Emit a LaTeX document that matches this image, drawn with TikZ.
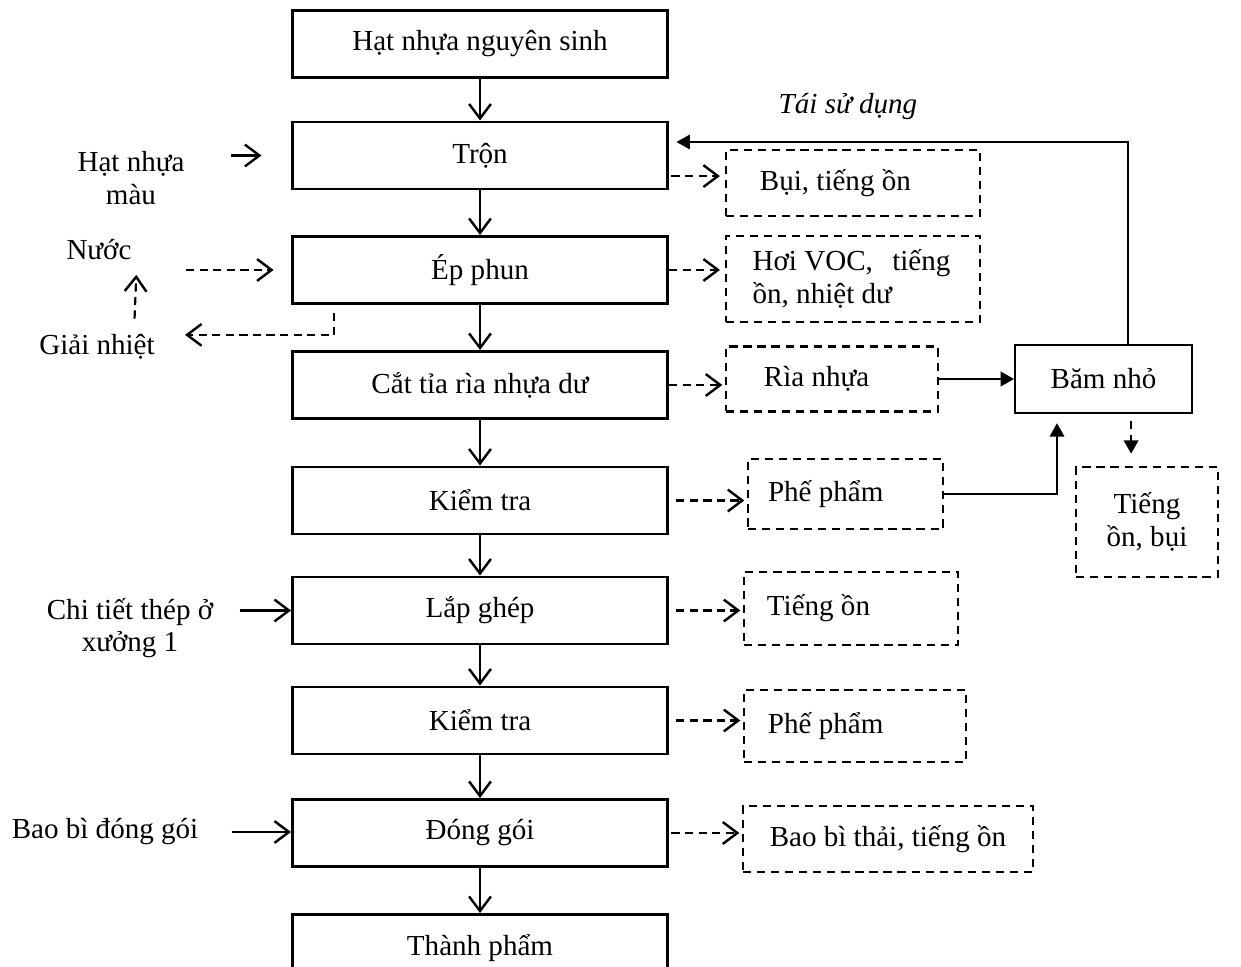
\documentclass[tikz,border=0pt]{standalone}
\usepackage{fontspec}
\setmainfont{Liberation Serif}
\usetikzlibrary{arrows.meta}

\begin{document}
\begin{tikzpicture}[x=0.413pt, y=-0.413pt,
      procbox/.style={draw, line width=1.2pt, minimum width=154.9pt, minimum height=27.7pt},
      wastebox/.style={draw, line width=1pt, dash pattern=on 3.4pt off 2.4pt, align=flush left, inner ysep=2pt},
      flow/.style={line width=0.9pt, -{Straight Barb[length=6pt,width=9pt,line width=1pt]}},
      dashflow/.style={flow, dash pattern=on 3.4pt off 2.2pt},
      feed/.style={line width=0.9pt, -{Triangle[length=5.5pt,width=6pt]}}]
      \tikzstyle{every node}=[font=\fontsize{12}{13.5}\selectfont]
      \clip (0,0) rectangle (1241,967);
      % main line
      \node[procbox] (hat) at (480,44) {Hạt nhựa nguyên sinh};
      \node[procbox] (tron) at (480,155.5) {Trộn};
      \node[procbox] (ep) at (480,270) {Ép phun};
      \node[procbox] (cat) at (480,385) {Cắt tỉa rìa nhựa dư};
      \node[procbox] (kt1) at (480,500.5) {Kiểm tra};
      \node[procbox] (lap) at (480,610.5) {Lắp ghép};
      \node[procbox] (kt2) at (480,720.5) {Kiểm tra};
      \node[procbox] (dong) at (480,833) {Đóng gói};
      \node[procbox, anchor=north] (thanh) at (480,913) {Thành phẩm};
      % waste
      \node[wastebox, text width=76.9pt, inner xsep=14pt, minimum height=27.3pt] (bui) at (853,183) {Bụi, tiếng ồn};
      \node[wastebox, text width=82.9pt, inner xsep=11pt, minimum height=35.5pt] (voc) at (853,279) {Hơi VOC,\hspace{8pt}tiếng\\ồn, nhiệt dư};
      \node[wastebox, text width=56.2pt, inner xsep=15.7pt, minimum height=26.8pt] (ria) at (832,379) {Rìa nhựa};
      \node[wastebox, text width=64pt, inner xsep=8.3pt, minimum height=28.9pt] (phe1) at (845.5,494) {Phế phẩm};
      \node[wastebox, text width=69.4pt, inner xsep=9.5pt, minimum height=30.1pt] (on) at (851,608.5) {Tiếng ồn};
      \node[wastebox, text width=71.9pt, inner xsep=9.9pt, minimum height=29.7pt] (phe2) at (855,726) {Phế phẩm};
      \node[wastebox, align=center, minimum width=119.8pt, minimum height=27.3pt] (baobithai) at (888,839) {Bao bì thải, tiếng ồn};
      \node[wastebox, align=center, minimum width=58.6pt, minimum height=45.4pt] (onbui) at (1147,522) {Tiếng\\ồn, bụi};
      \node[draw, line width=0.8pt, minimum width=73.1pt, minimum height=27.7pt] (bam) at (1103.5,379) {Băm nhỏ};
      % inputs
      \node[align=center] (mau) at (131,178) {Hạt nhựa\\màu};
      \node (nuoc) at (99,250) {Nước};
      \node (giai) at (97,347) {Giải nhiệt};
      \node[align=center] (thep) at (130,628) {Chi tiết thép ở\\xưởng 1};
      \node (baobi) at (105,832) {Bao bì đóng gói};
      \node (taisd) at (848,107) {\textit{Tái sử dụng}};
      \coordinate (bend) at (1128,142);

      \draw[flow] (hat) -- (tron);
      \draw[flow] (tron) -- (ep);
      \draw[flow] (ep) -- (cat);
      \draw[flow] (cat) -- (kt1);
      \draw[flow] (kt1) -- (lap);
      \draw[flow] (lap) -- (kt2);
      \draw[flow] (kt2) -- (dong);
      \draw[flow] (dong) -- (thanh);

      \draw[dashflow, shorten <=1pt, shorten >=2pt] ([yshift=-8.5pt]tron.east) -- ([yshift=-8.5pt]tron.east -| bui.west);
      \draw[dashflow, shorten >=2pt] (ep.east) -- (ep.east -| voc.west);
      \draw[dashflow, shorten >=1pt] (cat.east) -- (cat.east -| ria.west);
      \draw[dashflow, shorten <=3pt, shorten >=1pt] (kt1.east) -- (kt1.east -| phe1.west);
      \draw[dashflow, shorten <=3pt, shorten >=1pt] (lap.east) -- (lap.east -| on.west);
      \draw[dashflow, shorten <=3pt, shorten >=1pt] (kt2.east) -- (kt2.east -| phe2.west);
      \draw[dashflow, shorten <=1pt, shorten >=1pt] (dong.east) -- (dong.east -| baobithai.west);

      \draw[line width=0.5pt, -{Triangle[length=5.5pt,width=6pt]}, shorten >=3.1pt] (bam.north -| bend) -- (bend) -- (tron.east |- bend);
      \draw[feed] (ria.east) -- (bam.west);
      \draw[line width=0.6pt, -{Triangle[length=5.5pt,width=6pt]}, shorten >=4pt] (phe1.east) -| ([xshift=-19.2pt]bam.south);
      \draw[feed, dash pattern=on 3.4pt off 2.4pt, shorten <=3pt, shorten >=5pt] ([xshift=11.4pt]bam.south) -- ([xshift=11.4pt]bam.south |- onbui.north);

      \draw[flow, shorten <=15.5pt, shorten >=12.2pt] (mau.east |- tron.west) -- (tron.west);
      \draw[dashflow, shorten <=19pt, shorten >=7.2pt] (nuoc.east |- ep.west) -- (ep.west);
      \draw[dashflow, shorten <=3.3pt, shorten >=9pt] ([xshift=17.8pt]ep.south west) |- ([yshift=5pt]giai.east);
      \draw[dashflow, shorten >=2.5pt] ([xshift=15.5pt,yshift=3pt]giai.north) -- ([xshift=15.5pt]nuoc.south);
      \draw[flow, shorten <=7.4pt] (thep.east |- lap.west) -- (lap.west);
      \draw[flow, shorten <=10.3pt] (baobi.east) -- (baobi.east -| dong.west);
\end{tikzpicture}
\end{document}
